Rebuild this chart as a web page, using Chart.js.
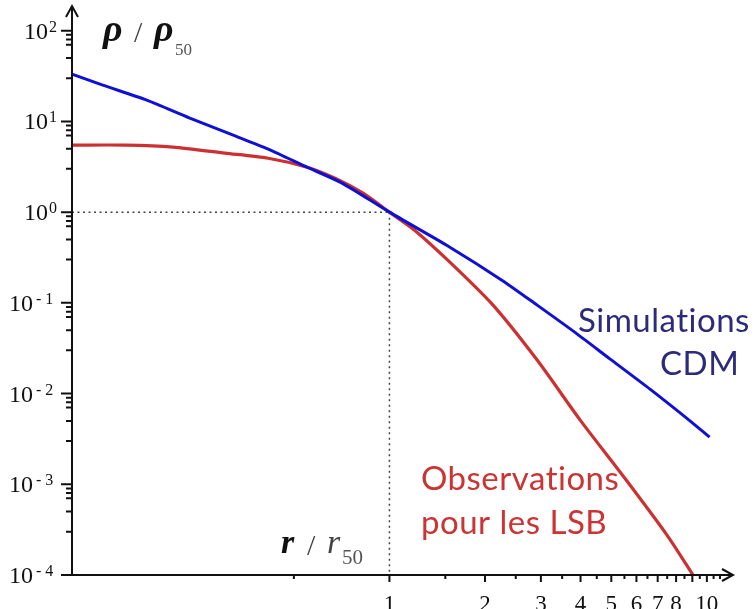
<!DOCTYPE html>
<html>
<head>
<meta charset="utf-8">
<script src="https://cdn.jsdelivr.net/npm/chart.js@4"></script>
<style>
    body { margin: 0; background: #fff; }
    canvas { display: block; }
</style>
</head>
<body>
<canvas id="profileChart" width="755" height="609"></canvas>
<script>
// Density profiles, r / r50 against rho / rho50
const rSimulations = [0.1, 0.125, 0.172, 0.235, 0.322, 0.415, 0.55, 0.709, 1.0, 1.55, 2.26, 2.92, 3.87, 4.96, 6.62, 8.48, 10.2];
const rhoSimulations = [33.2, 25.1, 17.2, 10.9, 7.06, 4.95, 3.13, 2.09, 1.0, 0.411, 0.178, 0.0944, 0.0464, 0.024, 0.0112, 0.00564, 0.00331];

const rObservations = [0.1, 0.147, 0.208, 0.303, 0.415, 0.55, 0.674, 0.826, 1.0, 1.2, 1.55, 2.12, 2.92, 3.99, 5.48, 7.49, 9.04];
const rhoObservations = [5.48, 5.48, 5.21, 4.47, 3.93, 3.13, 2.37, 1.62, 1.0, 0.633, 0.281, 0.0944, 0.0234, 0.0051, 0.0012, 0.000275, 0.0001];

// Axis ticks
const yDecades = [100, 10, 1, 0.1, 0.01, 0.001, 0.0001];
const yExponents = ['2', '1', '0', '- 1', '- 2', '- 3', '- 4'];
const yMinorSteps = [3, 5, 7, 8, 9];
const xMajorTicks = [1, 2, 3, 4, 5, 6, 7, 8, 9, 10];
const xTickLabels = ['1', '2', '3', '4', '5', '6', '7', '8', '', '10'];
const xMinorTicks = [0.5, 1.5, 2.5, 3.5, 4.5, 5.5, 6.5, 7.5, 8.5, 9.5, 10.5, 11];

function toPoints(xs, ys) {
    return xs.map((x, i) => ({ x: x, y: ys[i] }));
}

// Draws the axes, arrows, ticks, dotted guides and all the text
const axesPlugin = {
    id: 'axesPlugin',
    beforeDatasetsDraw(chart) {
        const ctx = chart.ctx;
        const x1 = chart.scales.x.getPixelForValue(1);
        const y1 = chart.scales.y.getPixelForValue(1);
        ctx.save();
        ctx.strokeStyle = '#444';
        ctx.lineWidth = 1.5;
        ctx.setLineDash([2, 3.5]);
        ctx.beginPath();
        ctx.moveTo(chart.chartArea.left, y1);
        ctx.lineTo(x1, y1);
        ctx.moveTo(x1, y1);
        ctx.lineTo(x1, chart.chartArea.bottom);
        ctx.stroke();
        ctx.restore();
    },
    afterDraw(chart) {
        const ctx = chart.ctx;
        const xs = chart.scales.x;
        const ys = chart.scales.y;
        const area = chart.chartArea;
        const left = area.left;
        const bottom = area.bottom;

        ctx.save();
        ctx.strokeStyle = '#111';
        ctx.fillStyle = '#111';
        ctx.lineWidth = 2;

        // axis lines
        ctx.beginPath();
        ctx.moveTo(left, bottom);
        ctx.lineTo(left, area.top - 2);
        ctx.moveTo(left - 11, bottom);
        ctx.lineTo(area.right, bottom);
        ctx.stroke();

        // arrow heads
        ctx.beginPath();
        ctx.moveTo(left - 6, area.top + 9);
        ctx.lineTo(left, area.top - 2);
        ctx.lineTo(left + 6, area.top + 9);
        ctx.moveTo(area.right - 10, bottom - 6);
        ctx.lineTo(area.right + 1, bottom);
        ctx.lineTo(area.right - 10, bottom + 6);
        ctx.stroke();

        // y ticks
        ctx.beginPath();
        yDecades.forEach(v => {
            const y = ys.getPixelForValue(v);
            ctx.moveTo(left - 11, y);
            ctx.lineTo(left, y);
            yMinorSteps.forEach(m => {
                const mv = v * m;
                if (mv < ys.max) {
                    const my = ys.getPixelForValue(mv);
                    ctx.moveTo(left - 6, my);
                    ctx.lineTo(left, my);
                }
            });
        });
        // x ticks
        xMajorTicks.forEach(v => {
            const x = xs.getPixelForValue(v);
            ctx.moveTo(x, bottom);
            ctx.lineTo(x, bottom + 7);
        });
        xMinorTicks.forEach(v => {
            const x = xs.getPixelForValue(v);
            ctx.moveTo(x, bottom);
            ctx.lineTo(x, bottom + 4);
        });
        ctx.stroke();

        // y tick labels: 10 with a raised exponent
        ctx.textBaseline = 'alphabetic';
        ctx.textAlign = 'left';
        yDecades.forEach((v, i) => {
            const y = ys.getPixelForValue(v);
            const negative = yExponents[i].startsWith('-');
            const baseX = negative ? 9 : 24;
            ctx.font = '24px "Liberation Serif"';
            ctx.fillText('10', baseX, y + 8);
            const w = ctx.measureText('10').width;
            ctx.font = '16px "Liberation Serif"';
            ctx.fillText(yExponents[i], baseX + w + (negative ? 3 : 1), y + 1);
        });

        // x tick labels
        ctx.font = '23px "Liberation Serif"';
        ctx.textAlign = 'center';
        xMajorTicks.forEach((v, i) => {
            if (xTickLabels[i]) {
                ctx.fillText(xTickLabels[i], xs.getPixelForValue(v), bottom + 36);
            }
        });

        // axis titles
        ctx.textAlign = 'left';
        ctx.fillStyle = '#111';
        ctx.font = 'italic bold 38px "Liberation Serif"';
        ctx.fillText('\u03C1', 103, 41);
        ctx.fillText('\u03C1', 154, 41);
        ctx.font = '30px "Liberation Serif"';
        ctx.fillStyle = '#444';
        ctx.fillText('/', 134, 42);
        ctx.font = '17px "Liberation Serif"';
        ctx.fillStyle = '#555';
        ctx.fillText('50', 175, 55);

        ctx.fillStyle = '#111';
        ctx.font = 'italic bold 34px "Liberation Serif"';
        ctx.fillText('r', 281, 553);
        ctx.font = '30px "Liberation Serif"';
        ctx.fillStyle = '#444';
        ctx.fillText('/', 307, 555);
        ctx.font = 'italic 34px "Liberation Serif"';
        ctx.fillText('r', 327, 553);
        ctx.font = '21px "Liberation Serif"';
        ctx.fillStyle = '#555';
        ctx.fillText('50', 342, 564);

        // curve names
        ctx.font = '33px Lato';
        ctx.letterSpacing = '0.5px';
        ctx.fillStyle = '#2c2a7a';
        ctx.fillText('Simulations', 578, 332);
        ctx.fillText('CDM', 660, 375);
        ctx.fillStyle = '#cc3333';
        ctx.fillText('Observations', 421, 490);
        ctx.fillText('pour les LSB', 421, 534);
        ctx.restore();
    }
};

const ctx = document.getElementById('profileChart').getContext('2d');
new Chart(ctx, {
    type: 'line',
    data: {
        datasets: [{
            label: 'Simulations CDM',
            data: toPoints(rSimulations, rhoSimulations),
            borderColor: '#1010d4',
            borderWidth: 3,
            pointRadius: 0,
            tension: 0.25,
        }, {
            label: 'Observations pour les LSB',
            data: toPoints(rObservations, rhoObservations),
            borderColor: '#cc3030',
            borderWidth: 3.2,
            pointRadius: 0,
            tension: 0.25,
        }]
    },
    options: {
        responsive: false,
        animation: false,
        layout: { padding: { left: 72, right: 23, top: 8, bottom: 34 } },
        plugins: {
            legend: { display: false },
            tooltip: { enabled: false },
        },
        scales: {
            x: { type: 'logarithmic', min: 0.1, max: 12, display: false },
            y: { type: 'logarithmic', min: 0.0001, max: 178, display: false },
        }
    },
    plugins: [axesPlugin]
});
</script>
</body>
</html>
